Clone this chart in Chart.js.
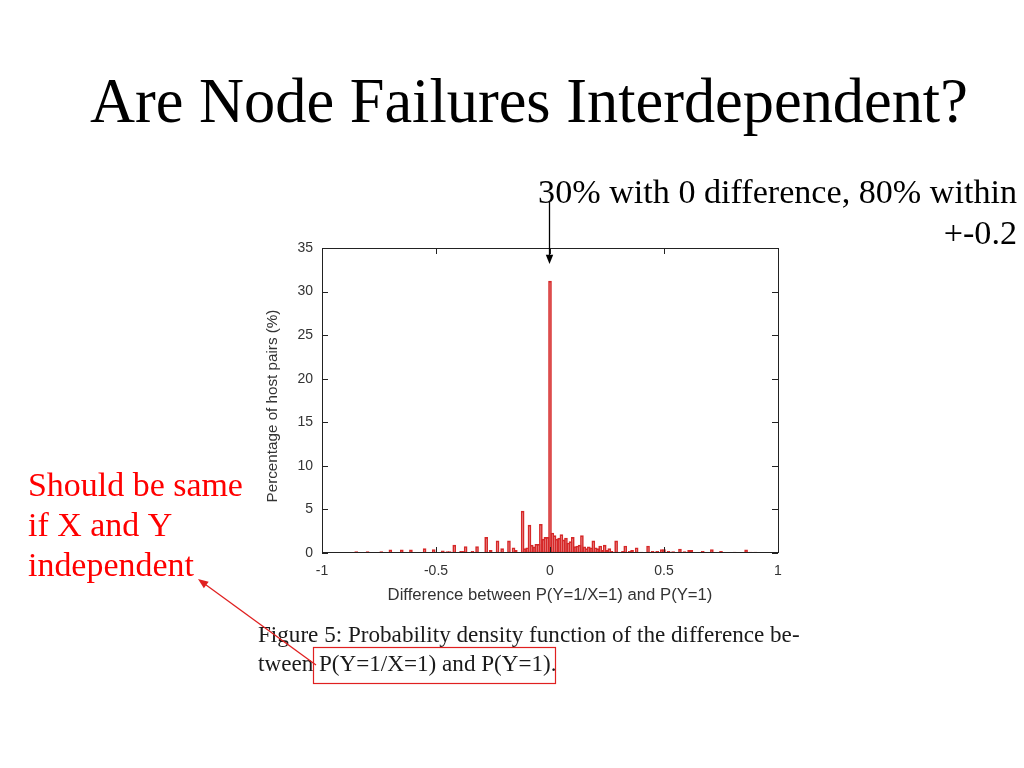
<!DOCTYPE html>
<html>
<head>
<meta charset="utf-8">
<script src="https://cdn.jsdelivr.net/npm/chart.js@4"></script>
<style>
  html, body { margin: 0; padding: 0; background: #fff; }
  canvas { display: block; }
</style>
</head>
<body>
<canvas id="myChart" width="1024" height="768"></canvas>
<script>
// histogram bins: difference value (bin position) and percentage of host pairs
var binX = [-0.85, -0.80, -0.74, -0.70, -0.65, -0.61, -0.55, -0.51, -0.47, -0.45,
            -0.44, -0.42, -0.39, -0.38, -0.37, -0.34, -0.32, -0.28, -0.26, -0.23,
            -0.21, -0.18, -0.16, -0.15, -0.12, -0.11, -0.10, -0.09, -0.08, -0.07,
            -0.06, -0.05, -0.04, -0.03, -0.02, -0.01, 0.00, 0.01, 0.02, 0.03,
            0.04, 0.05, 0.06, 0.07, 0.08, 0.09, 0.10, 0.11, 0.12, 0.13,
            0.14, 0.15, 0.16, 0.17, 0.18, 0.19, 0.20, 0.21, 0.22, 0.23,
            0.24, 0.25, 0.26, 0.27, 0.29, 0.30, 0.32, 0.33, 0.35, 0.36,
            0.38, 0.40, 0.43, 0.45, 0.47, 0.49, 0.50, 0.52, 0.54, 0.57,
            0.59, 0.61, 0.62, 0.67, 0.71, 0.75, 0.81, 0.86, 0.88, 0.90];
var pct  = [0.15, 0.15, 0.15, 0.35, 0.35, 0.35, 0.5, 0.4, 0.25, 0.15,
            0.15, 0.9, 0.2, 0.2, 0.75, 0.2, 0.75, 1.8, 0.3, 1.4,
            0.5, 1.4, 0.6, 0.3, 4.8, 0.5, 0.6, 3.2, 0.9, 0.7,
            1.0, 1.0, 3.3, 1.6, 1.8, 1.8, 31.2, 2.3, 2.0, 1.6,
            1.7, 2.1, 1.5, 1.7, 1.15, 1.3, 1.8, 0.75, 0.8, 0.9,
            2.0, 0.7, 0.5, 0.7, 0.6, 1.4, 0.6, 0.5, 0.8, 0.3,
            0.9, 0.3, 0.5, 0.2, 1.4, 0.1, 0.2, 0.8, 0.2, 0.3,
            0.6, 0.1, 0.8, 0.2, 0.2, 0.4, 0.4, 0.2, 0.15, 0.45,
            0.15, 0.3, 0.3, 0.2, 0.4, 0.2, 0.1, 0.35, 0.1, 0.1];

var xTicks = [-1, -0.5, 0, 0.5, 1];
var yTicks = [0, 5, 10, 15, 20, 25, 30, 35];

var slideTitle = 'Are Node Failures Interdependent?';
var noteLines = ['30% with 0 difference, 80% within', '+-0.2'];
var redLines = ['Should be same', 'if X and Y', 'independent'];
var captionLines = ['Figure 5: Probability density function of the difference be-',
                    'tween P(Y=1/X=1) and P(Y=1).'];

var serif = '"Liberation Serif", "Times New Roman", serif';
var sans = '"Liberation Sans", Arial, sans-serif';

// font size that makes text span the given width
function fitFont(ctx, text, family, width) {
    ctx.font = '100px ' + family;
    var size = 100 * width / ctx.measureText(text).width;
    return size.toFixed(2) + 'px ' + family;
}

function arrow(ctx, x1, y1, x2, y2, color, head) {
    var ang = Math.atan2(y2 - y1, x2 - x1);
    ctx.strokeStyle = color;
    ctx.fillStyle = color;
    ctx.lineWidth = 1.3;
    ctx.beginPath();
    ctx.moveTo(x1, y1);
    ctx.lineTo(x2 - Math.cos(ang) * head * 0.8, y2 - Math.sin(ang) * head * 0.8);
    ctx.stroke();
    ctx.beginPath();
    ctx.moveTo(x2, y2);
    ctx.lineTo(x2 - head * Math.cos(ang - 0.38), y2 - head * Math.sin(ang - 0.38));
    ctx.lineTo(x2 - head * Math.cos(ang + 0.38), y2 - head * Math.sin(ang + 0.38));
    ctx.closePath();
    ctx.fill();
}

var slidePlugin = {
    id: 'slide',
    beforeDraw: function (chart) {
        var ctx = chart.ctx;
        ctx.save();
        ctx.fillStyle = '#ffffff';
        ctx.fillRect(0, 0, chart.width, chart.height);
        ctx.restore();
    },
    afterDraw: function (chart) {
        var ctx = chart.ctx;
        var a = chart.chartArea;
        var xs = chart.scales.x, ys = chart.scales.y;
        ctx.save();

        // red zero line of the histogram
        var y0 = Math.round(ys.getPixelForValue(0)) - 0.5;
        ctx.strokeStyle = '#d62828';
        ctx.lineWidth = 1;
        ctx.beginPath();
        ctx.moveTo(a.left, y0);
        ctx.lineTo(a.right, y0);
        ctx.stroke();

        // plot frame with inward ticks (gnuplot style)
        ctx.strokeStyle = '#222';
        ctx.lineWidth = 1;
        ctx.strokeRect(Math.round(a.left) + 0.5, Math.round(a.top) + 0.5,
                       Math.round(a.width), Math.round(a.height) - 1);
        ctx.beginPath();
        xTicks.forEach(function (v) {
            var px = Math.round(xs.getPixelForValue(v)) + 0.5;
            ctx.moveTo(px, a.bottom); ctx.lineTo(px, a.bottom - 6);
            ctx.moveTo(px, a.top); ctx.lineTo(px, a.top + 6);
        });
        yTicks.forEach(function (v) {
            var py = Math.round(ys.getPixelForValue(v)) + 0.5;
            ctx.moveTo(a.left, py); ctx.lineTo(a.left + 6, py);
            ctx.moveTo(a.right, py); ctx.lineTo(a.right - 6, py);
        });
        ctx.stroke();

        // axis titles
        ctx.fillStyle = '#333';
        ctx.textAlign = 'center';
        ctx.textBaseline = 'middle';
        ctx.font = fitFont(ctx, 'Difference between P(Y=1/X=1) and P(Y=1)', sans, 325);
        ctx.fillText('Difference between P(Y=1/X=1) and P(Y=1)', (a.left + a.right) / 2, 595);
        ctx.save();
        ctx.translate(273, 406);
        ctx.rotate(-Math.PI / 2);
        ctx.font = fitFont(ctx, 'Percentage of host pairs (%)', sans, 193);
        ctx.fillText('Percentage of host pairs (%)', 0, 0);
        ctx.restore();

        // slide title
        ctx.fillStyle = '#000';
        ctx.textAlign = 'left';
        ctx.textBaseline = 'alphabetic';
        ctx.font = fitFont(ctx, slideTitle, serif, 878);
        ctx.fillText(slideTitle, 90, 122);

        // note at the top right with arrow to the spike
        ctx.font = fitFont(ctx, noteLines[0], serif, 479);
        ctx.textAlign = 'right';
        ctx.fillText(noteLines[0], 1017, 203);
        ctx.fillText(noteLines[1], 1017, 244);
        arrow(ctx, 549.5, 201, 549.5, 264, '#000', 10);

        // red remark on the left
        ctx.fillStyle = '#ff0000';
        ctx.textAlign = 'left';
        ctx.font = fitFont(ctx, redLines[0], serif, 215);
        redLines.forEach(function (t, i) {
            ctx.fillText(t, 28, 496 + i * 40);
        });

        // figure caption
        ctx.fillStyle = '#1a1a1a';
        ctx.font = fitFont(ctx, captionLines[0], serif, 542);
        ctx.fillText(captionLines[0], 258, 642);
        ctx.fillText(captionLines[1], 258, 671);

        // red box round the formula and red arrow to the remark
        ctx.strokeStyle = '#e02020';
        ctx.lineWidth = 1.2;
        ctx.strokeRect(313.5, 647.5, 242, 36);
        arrow(ctx, 316, 665, 198, 579, '#e02020', 11);

        ctx.restore();
    }
};

var ctx = document.getElementById('myChart').getContext('2d');
var myChart = new Chart(ctx, {
    type: 'bar',
    data: {
        datasets: [{
            label: 'Percentage of host pairs',
            data: binX.map(function (x, i) { return { x: x, y: pct[i] }; }),
            borderColor: '#d62828',
            backgroundColor: 'rgba(255, 255, 255, 0)',
            borderWidth: 1,
            borderSkipped: false,
            barThickness: 3
        }]
    },
    options: {
        responsive: false,
        animation: false,
        layout: {
            padding: { left: 282, right: 246, top: 248, bottom: 185 }
        },
        plugins: {
            legend: { display: false },
            tooltip: { enabled: false }
        },
        scales: {
            x: {
                type: 'linear',
                min: -1,
                max: 1,
                offset: false,
                afterBuildTicks: function (s) { s.ticks = xTicks.map(function (v) { return { value: v }; }); },
                afterFit: function (s) { s.height = 30; },
                grid: { display: false, drawTicks: false, offset: false },
                border: { display: false },
                ticks: {
                    padding: 10, color: '#333', font: { family: sans, size: 14 },
                    callback: function (v) { return String(v); }
                }
            },
            y: {
                min: 0,
                max: 35,
                afterBuildTicks: function (s) { s.ticks = yTicks.map(function (v) { return { value: v }; }); },
                afterFit: function (s) { s.width = 40; },
                grid: { display: false, drawTicks: false },
                border: { display: false },
                ticks: {
                    padding: 9, color: '#333', font: { family: sans, size: 14 },
                    callback: function (v) { return String(v); }
                }
            }
        }
    },
    plugins: [slidePlugin]
});
</script>
</body>
</html>
